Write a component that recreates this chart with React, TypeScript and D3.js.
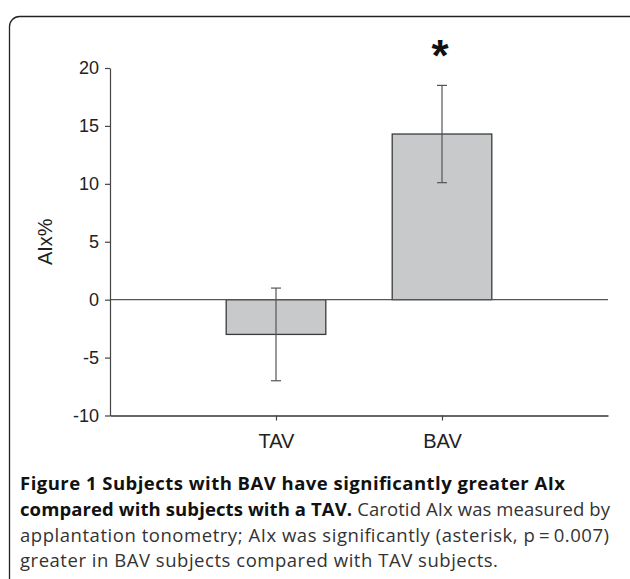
import React, { useEffect, useRef } from 'react';
import * as d3 from 'd3';

// data
const groups = ['TAV', 'BAV'];
const means = [-3, 14.3];
const errLow = [-7, 10.1];
const errHigh = [1, 18.5];
const yTicks = [-10, -5, 0, 5, 10, 15, 20];
const starred = [false, true];

const App = () => {
    const svgRef = useRef(null);

    useEffect(() => {
        const svg = d3.select(svgRef.current);
        svg.selectAll('*').remove();

        // frame round the figure
        svg.append('rect')
            .attr('x', 9.5).attr('y', 16.5)
            .attr('width', 640).attr('height', 620)
            .attr('rx', 10)
            .attr('fill', 'none')
            .attr('stroke', '#222')
            .attr('stroke-width', 1.3);

        const xScale = d3.scaleLinear().domain([0, 3]).range([110, 608]);
        const yScale = d3.scaleLinear().domain([-10, 20]).range([415.5, 68]);
        const barW = (xScale(1) - xScale(0)) * 0.6;

        const g = svg.append('g');

        // bars
        g.selectAll('rect.bar')
            .data(means)
            .enter()
            .append('rect')
            .attr('class', 'bar')
            .attr('x', (_, i) => xScale(i + 1) - barW / 2)
            .attr('y', d => yScale(Math.max(0, d)))
            .attr('width', barW)
            .attr('height', d => Math.abs(yScale(d) - yScale(0)))
            .attr('fill', '#c8c9cb')
            .attr('stroke', '#3a3a3a')
            .attr('stroke-width', 1.3);

        // zero line
        g.append('line')
            .attr('x1', xScale(0)).attr('x2', xScale(3))
            .attr('y1', yScale(0)).attr('y2', yScale(0))
            .attr('stroke', '#555').attr('stroke-width', 1.2);

        // error bars
        groups.forEach((_, i) => {
            const cx = xScale(i + 1);
            const eb = g.append('g').attr('stroke', '#555').attr('stroke-width', 1.2);
            eb.append('line').attr('x1', cx).attr('x2', cx).attr('y1', yScale(errLow[i])).attr('y2', yScale(errHigh[i]));
            eb.append('line').attr('x1', cx - 5).attr('x2', cx + 5).attr('y1', yScale(errLow[i])).attr('y2', yScale(errLow[i]));
            eb.append('line').attr('x1', cx - 5).attr('x2', cx + 5).attr('y1', yScale(errHigh[i])).attr('y2', yScale(errHigh[i]));
            if (starred[i]) {
                g.append('text')
                    .attr('x', cx - 2).attr('y', yScale(errHigh[i]) - 14)
                    .attr('text-anchor', 'middle')
                    .style('font-family', '"Liberation Sans", Arial, sans-serif')
                    .style('font-size', '44px')
                    .style('font-weight', 'bold')
                    .attr('fill', '#111')
                    .text('*');
            }
        });

        // y axis
        const yAxis = g.append('g')
            .attr('transform', `translate(${xScale(0)},0)`)
            .call(d3.axisLeft(yScale).tickValues(yTicks).tickFormat(d => String(d)).tickSize(5).tickPadding(6).tickSizeOuter(0));
        yAxis.select('.domain').attr('stroke', '#444').attr('stroke-width', 1.2);
        yAxis.selectAll('.tick line').attr('stroke', '#444').attr('stroke-width', 1.2);
        yAxis.selectAll('.tick text')
            .attr('fill', '#222')
            .style('font-family', '"Liberation Sans", Arial, sans-serif')
            .style('font-size', '18px');

        // x axis
        const xAxis = g.append('g')
            .attr('transform', `translate(0,${yScale(-10)})`)
            .call(d3.axisBottom(xScale).tickValues([1, 2]).tickFormat((d) => groups[+d - 1]).tickSize(5).tickPadding(13).tickSizeOuter(0));
        xAxis.select('.domain').attr('stroke', '#333').attr('stroke-width', 1.3);
        xAxis.selectAll('.tick line').attr('stroke', '#444').attr('stroke-width', 1.2);
        xAxis.selectAll('.tick text')
            .attr('fill', '#222')
            .style('font-family', '"Liberation Sans", Arial, sans-serif')
            .style('font-size', '20px');

        // y label
        g.append('text')
            .attr('transform', `translate(52,${(yScale(20) + yScale(-10)) / 2}) rotate(-90)`)
            .attr('text-anchor', 'middle')
            .attr('fill', '#222')
            .style('font-family', '"Liberation Sans", Arial, sans-serif')
            .style('font-size', '20px')
            .text('AIx%');

        // caption
        const cap = svg.append('g')
            .style('font-family', '"Open Sans", sans-serif')
            .style('font-size', '18.5px');
        const t1 = cap.append('text').attr('x', 20).attr('y', 490)
            .attr('textLength', 545).attr('lengthAdjust', 'spacing');
        t1.append('tspan').attr('font-weight', 'bold').attr('fill', '#111')
            .text('Figure 1 Subjects with BAV have significantly greater AIx');
        const t2 = cap.append('text').attr('x', 20).attr('y', 516)
            .attr('textLength', 590).attr('lengthAdjust', 'spacing');
        t2.append('tspan').attr('font-weight', 'bold').attr('fill', '#111')
            .text('compared with subjects with a TAV.');
        t2.append('tspan').attr('fill', '#333').text(' Carotid AIx was measured by');
        cap.append('text').attr('x', 20).attr('y', 542).attr('fill', '#333')
            .attr('textLength', 589).attr('lengthAdjust', 'spacing')
            .text('applantation tonometry; AIx was significantly (asterisk, p\u2009=\u20090.007)');
        cap.append('text').attr('x', 20).attr('y', 567).attr('fill', '#333')
            .attr('textLength', 478).attr('lengthAdjust', 'spacing')
            .text('greater in BAV subjects compared with TAV subjects.');
    }, []);

    return (
        <svg ref={svgRef} width={630} height={579}
            style={{ position: 'absolute', left: 0, top: 0, background: '#fff' }} />
    );
};

export default App;
